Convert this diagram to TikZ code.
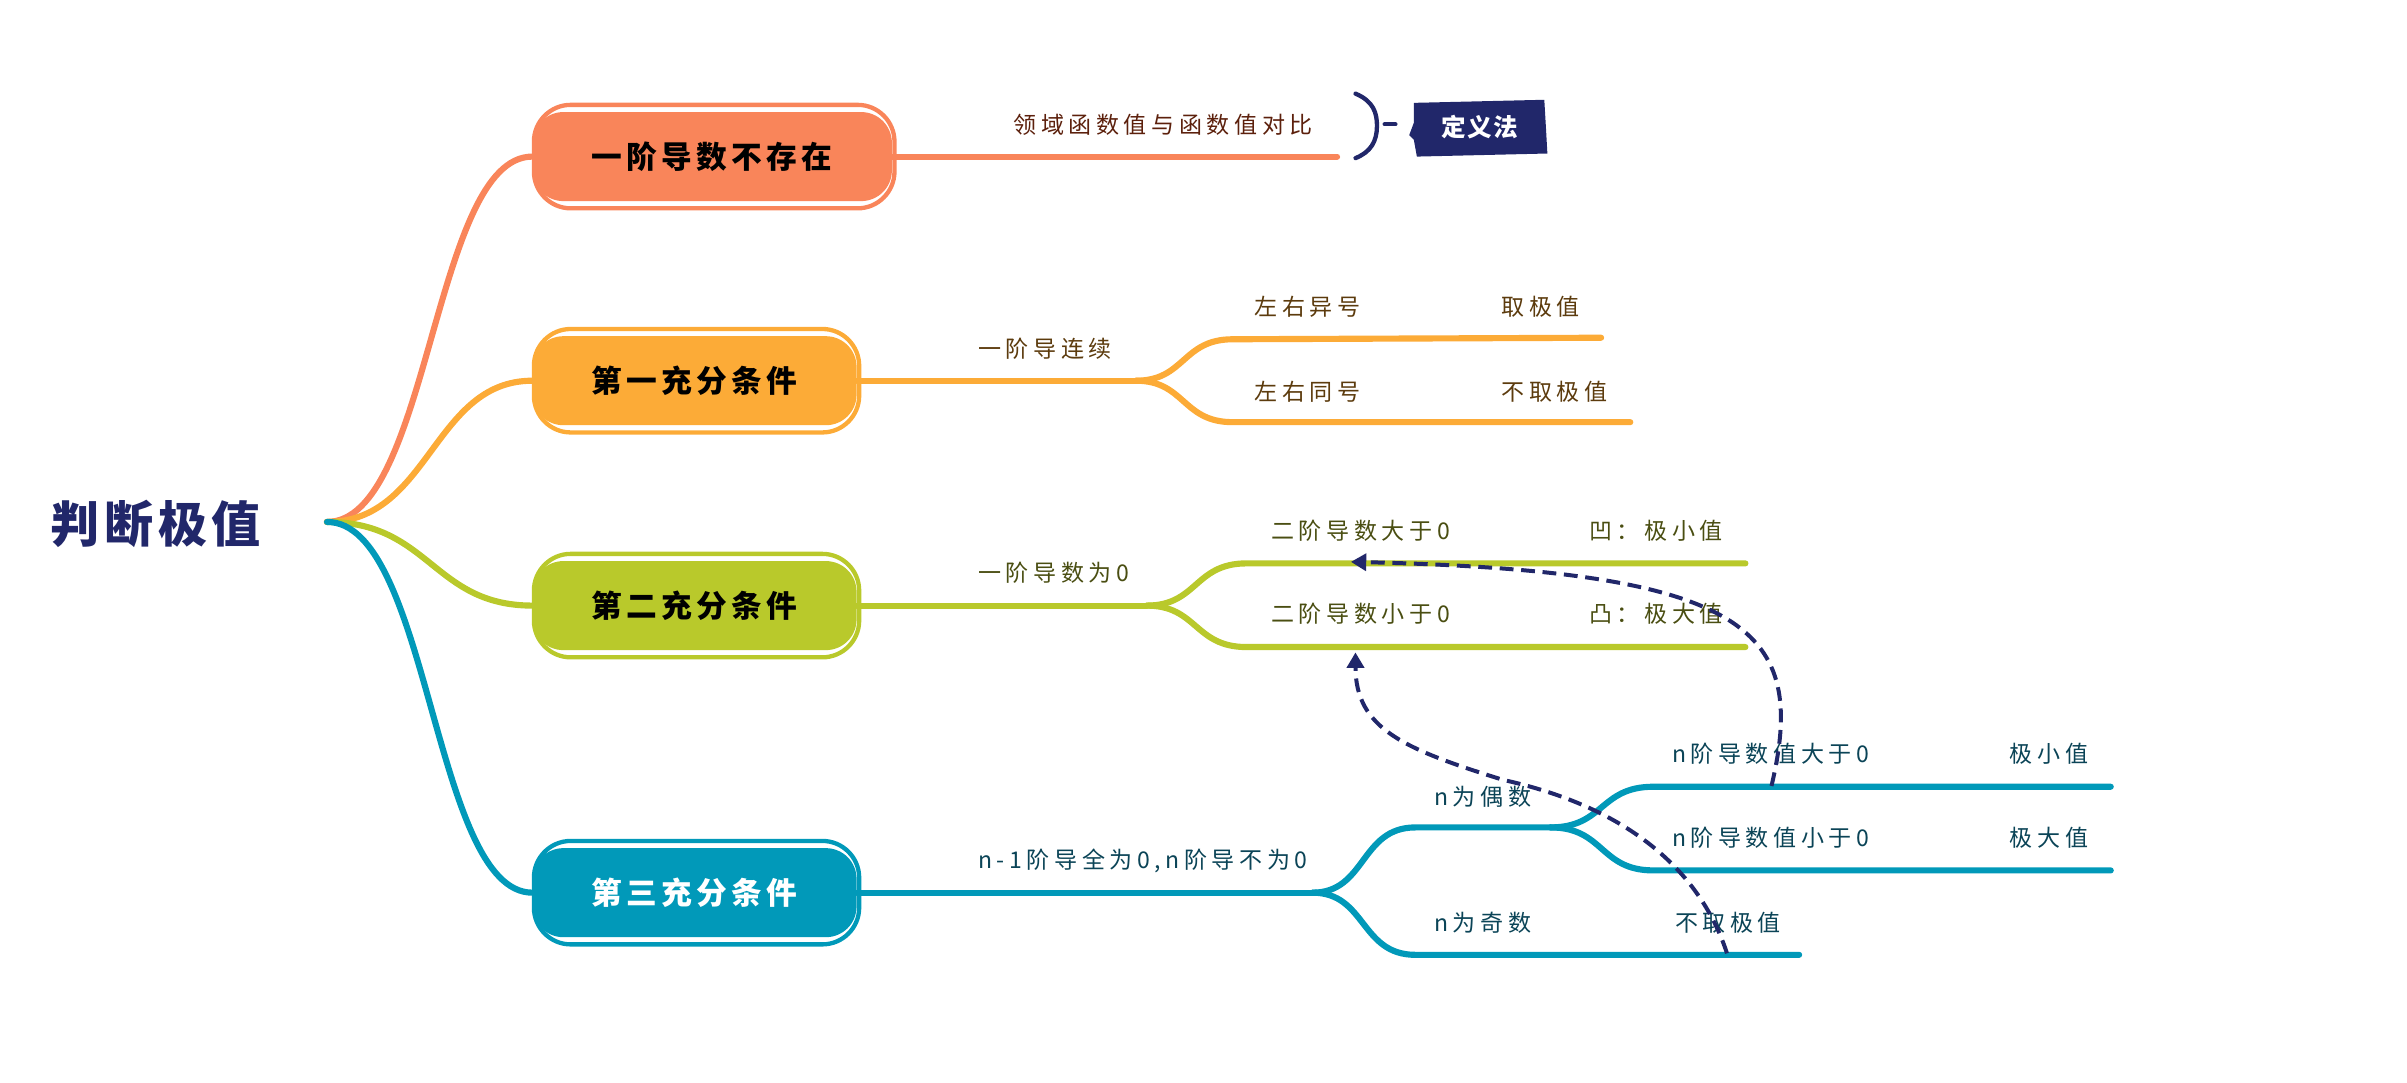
\documentclass[tikz,border=0pt]{standalone}
\usepackage{fontspec}
\setmainfont{Noto Sans CJK SC}
\usetikzlibrary{arrows.meta,calc}
\definecolor{cOr}{HTML}{F9855A}
\definecolor{cYe}{HTML}{FCAB37}
\definecolor{cGr}{HTML}{B9C92B}
\definecolor{cTe}{HTML}{0199B9}
\definecolor{cNv}{HTML}{21276A}
\definecolor{tOr}{HTML}{5C200C}
\definecolor{tYe}{HTML}{5C3B0D}
\definecolor{tGr}{HTML}{4A4E12}
\definecolor{tTe}{HTML}{0B4457}
\begin{document}
\begin{tikzpicture}[x=1pt,y=-1pt,
  rootlbl/.style={anchor=west,inner sep=0,text=cNv,font=\fontsize{32}{36}\selectfont\bfseries\addfontfeature{LetterSpace=9}},
  mainbox/.style={rounded corners=20,inner sep=0,minimum height=58,font=\fontsize{20}{24}\selectfont\bfseries\addfontfeature{LetterSpace=14}},
  lbl/.style={anchor=west,inner sep=0,font=\fontsize{15}{18}\selectfont\addfontfeature{LetterSpace=20}},
  brl/.style={line width=4,line cap=round},
  sub/.style={line width=4,line cap=round},
  dsh/.style={cNv,line width=2.6,dash pattern=on 9pt off 5pt,-{Triangle[length=10pt,width=11pt]}},
  rim/.style={line width=2.8,rounded corners=24}]
\useasboundingbox (0,0) rectangle (1568,705);
% root
\node[rootlbl] (root) at (33,341) {判断极值};
\coordinate (r) at (213,340);
% coordinates of boxes
\coordinate (p1) at (464,102);
\coordinate (p2) at (452.5,248);
\coordinate (p3) at (452.5,394.5);
\coordinate (p4) at (452.5,581.5);
% boxes (nodes)
\node[mainbox,fill=cOr,minimum width=234,text=black] (b1) at (p1) {一阶导数不存在};
\node[mainbox,fill=cYe,minimum width=211,text=black] (b2) at (p2) {第一充分条件};
\node[mainbox,fill=cGr,minimum width=211,text=black] (b3) at (p3) {第二充分条件};
\node[mainbox,fill=cTe,minimum width=211,text=white] (b4) at (p4) {第三充分条件};
\foreach \b/\c in {b1/cOr,b2/cYe,b3/cGr,b4/cTe}{
  \draw[rim,\c] ([xshift=1,yshift=4.5]\b.north west) rectangle ([xshift=1.5,yshift=-4.5]\b.south east);
}
% root connectors
\draw[brl,cOr] (r) .. controls (280,340) and (282,102) .. (b1.west);
\draw[brl,cYe] (r) .. controls (280,340) and (282,248) .. (b2.west);
\draw[brl,cGr] (r) .. controls (280,340) and (282,394.5) .. (b3.west);
\draw[brl,cTe] (r) .. controls (280,340) and (282,581.5) .. (b4.west);
% branch 1
\coordinate (e1) at (871,102);
\draw[sub,cOr] (b1.east) -- (e1);
\node[lbl,text=tOr] (l1) at (660,81) {领域函数值与函数值对比};
\draw[cNv,line width=2.8,line cap=round] (883,61) .. controls (895,66) and (897,74) .. (897,82) .. controls (897,92) and (893,99) .. (883,103);
\draw[cNv,line width=2.8,line cap=round] (902,81) -- (909,81);
\fill[cNv] (921,67) -- (1006,65) -- (1007,82) -- (1008,100) -- (923,102) -- (921,91) -- (918,88) -- (921,80) -- cycle;
\node[inner sep=0,text=white,font=\fontsize{16}{19}\selectfont\bfseries\addfontfeature{LetterSpace=6}] (def) at (964,83) {定义法};
% branch 2
\coordinate (s2) at (740,248);
\coordinate (u2) at (803,221); \coordinate (ue2) at (1043,220);
\coordinate (d2) at (803,275); \coordinate (de2) at (1062,275);
\draw[sub,cYe] (b2.east) -- (s2);
\draw[sub,cYe] (s2) .. controls (772,248) and (770,221) .. (u2) -- (ue2);
\draw[sub,cYe] (s2) .. controls (772,248) and (770,275) .. (d2) -- (de2);
\node[lbl,text=tYe] (l2) at (637,227) {一阶导连续};
\node[lbl,text=tYe] (l2a) at (817,200) {左右异号};
\node[lbl,text=tYe] (l2b) at (978,200) {取极值};
\node[lbl,text=tYe] (l2c) at (817,255) {左右同号};
\node[lbl,text=tYe] (l2d) at (978,255) {不取极值};
% branch 3
\coordinate (s3) at (747,394.5);
\coordinate (u3) at (812,367); \coordinate (ue3) at (1137,367);
\coordinate (d3) at (812,421.5); \coordinate (de3) at (1137,421.5);
\draw[sub,cGr] (b3.east) -- (s3);
\draw[sub,cGr] (s3) .. controls (780,394.5) and (778,367) .. (u3) -- (ue3);
\draw[sub,cGr] (s3) .. controls (780,394.5) and (778,421.5) .. (d3) -- (de3);
\node[lbl,text=tGr] (l3) at (637,373) {一阶导数为0};
\node[lbl,text=tGr] (l3a) at (828,346) {二阶导数大于0};
\node[lbl,text=tGr] (l3b) at (1035,346) {凹：极小值};
\node[lbl,text=tGr] (l3c) at (828,400) {二阶导数小于0};
\node[lbl,text=tGr] (l3d) at (1035,400) {凸：极大值};
% branch 4
\coordinate (s4) at (855,581.5);
\coordinate (u4) at (922,539); \coordinate (s5) at (1010,539);
\coordinate (d4) at (922,622); \coordinate (de4) at (1172,622);
\coordinate (u5) at (1077,512.5); \coordinate (ue5) at (1375,512.5);
\coordinate (d5) at (1077,567); \coordinate (de5) at (1375,567);
\draw[sub,cTe] (b4.east) -- (s4);
\draw[sub,cTe] (s4) .. controls (890,581.5) and (886,539) .. (u4) -- (s5);
\draw[sub,cTe] (s4) .. controls (890,581.5) and (886,622) .. (d4) -- (de4);
\draw[sub,cTe] (s5) .. controls (1045,539) and (1042,512.5) .. (u5) -- (ue5);
\draw[sub,cTe] (s5) .. controls (1045,539) and (1042,567) .. (d5) -- (de5);
\node[lbl,text=tTe] (l4) at (637,561) {n-1阶导全为0,n阶导不为0};
\node[lbl,text=tTe] (l4a) at (934,519) {n为偶数};
\node[lbl,text=tTe] (l4b) at (934,601) {n为奇数};
\node[lbl,text=tTe] (l4c) at (1091,601) {不取极值};
\node[lbl,text=tTe] (l4d) at (1089,491) {n阶导数值大于0};
\node[lbl,text=tTe] (l4e) at (1309,491) {极小值};
\node[lbl,text=tTe] (l4f) at (1089,546) {n阶导数值小于0};
\node[lbl,text=tTe] (l4g) at (1309,546) {极大值};
% dashed arrows
\coordinate (a1s) at (1154,512); \coordinate (a1e) at (880,366);
\draw[dsh] (a1s) .. controls (1178,410) and (1140,372) .. (a1e);
\coordinate (a2s) at (1125,621); \coordinate (a2m) at (979,508); \coordinate (a2e) at (883,425);
\draw[dsh] (a2s) .. controls (1110,575) and (1070,528) .. (a2m) .. controls (915,488) and (883,475) .. (a2e);
\end{tikzpicture}
\end{document}
